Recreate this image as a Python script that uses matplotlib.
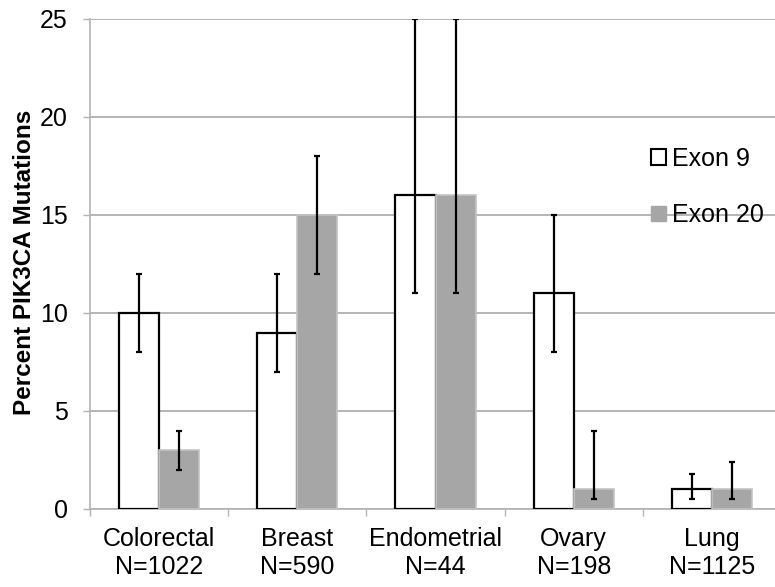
#!/usr/bin/env python3
import matplotlib.pyplot as plt
import numpy as np
from matplotlib.patches import Patch

OUTPUT_FILE = "out.png"

categories = ["Colorectal\nN=1022", "Breast\nN=590", "Endometrial\nN=44",
              "Ovary\nN=198", "Lung\nN=1125"]
exon9 = [10, 9, 16, 11, 1]
exon9_low = [8, 7, 11, 8, 0.5]
exon9_high = [12, 12, 25, 15, 1.8]
exon20 = [3, 15, 16, 1, 1]
exon20_low = [2, 12, 11, 0.5, 0.5]
exon20_high = [4, 18, 25, 4, 2.4]
y_ticks = [0, 5, 10, 15, 20, 25]

GRAY = "#a6a6a6"
AXIS_GRAY = "#b3b3b3"
FS = 18


def plot_chart():
    plt.rcParams["font.family"] = ["Liberation Sans", "DejaVu Sans"]

    fig = plt.figure(figsize=(7.75, 5.87), dpi=100)
    # plot area runs slightly past the right edge, as in the original
    ax = fig.add_axes([90 / 775, 78 / 587, 691 / 775, 490 / 587])

    x = np.arange(len(categories))
    width = 0.29
    off = 0.145

    e9 = np.array(exon9)
    e20 = np.array(exon20)
    err9 = [e9 - np.array(exon9_low), np.array(exon9_high) - e9]
    err20 = [e20 - np.array(exon20_low), np.array(exon20_high) - e20]

    ax.bar(x - off, e9, width, color="white", edgecolor="black",
           linewidth=1.6, zorder=3)
    # soft edge around gray bars to mimic the shadow
    ax.bar(x + off, e20, width, color=GRAY, edgecolor="#c4c4c4",
           linewidth=1.2, zorder=4)

    ax.errorbar(x - off, e9, yerr=err9, fmt="none", ecolor="black",
                elinewidth=1.6, capsize=2.3, capthick=1.6, zorder=5)
    ax.errorbar(x + off, e20, yerr=err20, fmt="none", ecolor="black",
                elinewidth=1.6, capsize=2.3, capthick=1.6, zorder=5)

    ax.set_xlim(-0.5, len(categories) - 0.5)
    ax.set_ylim(0, 25)
    ax.set_yticks(y_ticks)
    ax.set_yticklabels([str(t) for t in y_ticks], fontsize=FS)
    ax.tick_params(axis="y", length=5, width=1, color=AXIS_GRAY, pad=11)

    ax.set_xticks(np.arange(len(categories) + 1) - 0.5)
    ax.set_xticklabels([])
    ax.tick_params(axis="x", which="major", length=5, width=1, color=AXIS_GRAY)
    ax.set_xticks(x, minor=True)
    ax.set_xticklabels(categories, minor=True, fontsize=FS)
    ax.tick_params(axis="x", which="minor", length=0, pad=13)

    ax.grid(axis="y", color="#a0a0a0", linewidth=1.1, zorder=0)
    ax.set_axisbelow(True)
    for side in ["top", "right"]:
        ax.spines[side].set_visible(False)
    for side in ["left", "bottom"]:
        ax.spines[side].set_color(AXIS_GRAY)
        ax.spines[side].set_linewidth(1.2)
        ax.spines[side].set_zorder(2)

    fig.text(25 / 775, 1 - 262 / 587, "Percent PIK3CA Mutations",
             rotation=90, ha="center", va="center", fontsize=17.5,
             fontweight="bold")

    handles = [
        Patch(facecolor="white", edgecolor="black", linewidth=1.5),
        Patch(facecolor=GRAY, edgecolor=GRAY),
    ]
    fig.legend(handles, ["Exon 9", "Exon 20"], loc="center left",
               bbox_to_anchor=(651 / 775, 1 - 187 / 587), frameon=False,
               fontsize=FS, handlelength=0.6, handleheight=0.6,
               handletextpad=0.25, labelspacing=1.3, borderpad=0,
               borderaxespad=0)

    fig.savefig(OUTPUT_FILE, dpi=100)
    print(f"Plot saved to {OUTPUT_FILE}")


if __name__ == "__main__":
    plot_chart()
